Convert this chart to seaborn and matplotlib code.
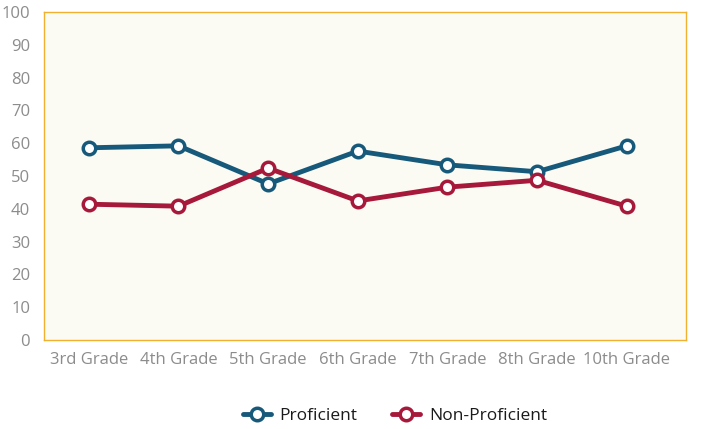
import matplotlib
matplotlib.use("Agg")
import matplotlib.pyplot as plt
import seaborn as sns
import pandas as pd

grades = ["3rd Grade", "4th Grade", "5th Grade", "6th Grade", "7th Grade", "8th Grade", "10th Grade"]
proficient = [58.6, 59.2, 47.6, 57.6, 53.4, 51.3, 59.2]
non_proficient = [41.4, 40.8, 52.4, 42.4, 46.6, 48.7, 40.8]
series_names = ["Proficient", "Non-Proficient"]
yticks = list(range(0, 101, 10))

df = pd.DataFrame({
    "Grade": grades * 2,
    "Value": proficient + non_proficient,
    "Series": [series_names[0]] * len(grades) + [series_names[1]] * len(grades),
})

sns.set_theme(style="white")
plt.rcParams["font.family"] = ["Open Sans", "DejaVu Sans"]

fig = plt.figure(figsize=(7.12, 4.29), dpi=100)
ax = fig.add_axes([44 / 712, 1 - 340 / 429, (686 - 44) / 712, (340 - 12) / 429])
ax.set_facecolor("#fbfbf3")

palette = {"Proficient": "#17597a", "Non-Proficient": "#a6193a"}
sns.lineplot(data=df, x="Grade", y="Value", hue="Series", palette=palette,
             marker="o", markersize=9, markerfacecolor="white", markeredgewidth=2.5,
             linewidth=3.5, ax=ax, sort=False)

for line in ax.lines:
    line.set_markeredgecolor(line.get_color())

ax.set_ylim(0, 100)
ax.set_xlim(-0.5, len(grades) - 0.34)
ax.set_yticks(yticks)
ax.set_xlabel("")
ax.set_ylabel("")
ax.tick_params(axis="both", colors="#8c8c8c", labelsize=12, length=0)
ax.tick_params(axis="x", pad=9)
ax.tick_params(axis="y", pad=10)
for s in ax.spines.values():
    s.set_color("#f0b030")
    s.set_linewidth(1.0)

handles, labels = ax.get_legend_handles_labels()
for h in handles:
    h.set_markeredgecolor(h.get_color())
    h.set_markerfacecolor("white")
fig.legend(handles, labels, loc="center", bbox_to_anchor=(395 / 712, 1 - 416 / 429),
           ncol=2, frameon=False, fontsize=12.5, handlelength=1.6,
           columnspacing=2.0, handletextpad=0.5, labelcolor="#1a1a1a")
if ax.get_legend():
    ax.get_legend().remove()

fig.savefig("out.png", dpi=100)
